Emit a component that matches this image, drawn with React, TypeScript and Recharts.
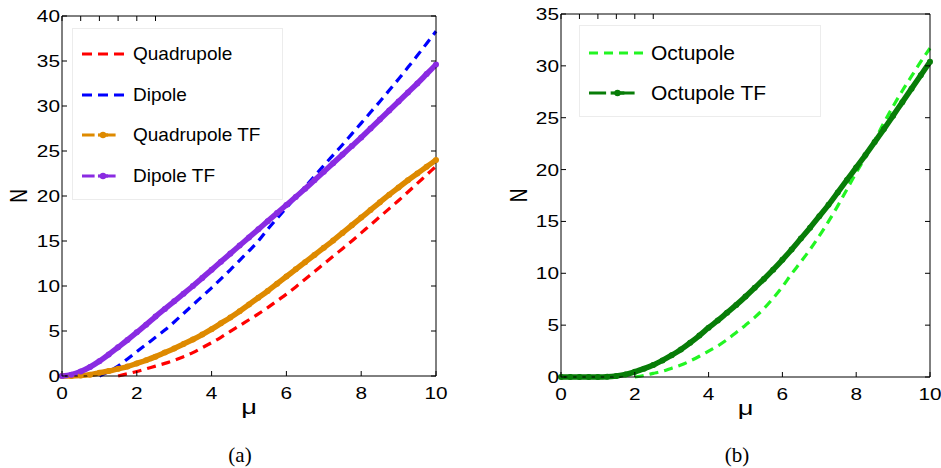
import React from "react";
import { LineChart, Line, XAxis, YAxis, Label } from "recharts";

// mu grid shared by every series
const MU = [
  0, 0.25, 0.5, 0.75, 1, 1.25, 1.5, 1.75, 2, 2.25, 2.5, 2.75, 3, 3.25, 3.5,
  3.75, 4, 4.25, 4.5, 4.75, 5, 5.25, 5.5, 5.75, 6, 6.25, 6.5, 6.75, 7, 7.25,
  7.5, 7.75, 8, 8.25, 8.5, 8.75, 9, 9.25, 9.5, 9.75, 10,
];

// panel (a)
const QUADRUPOLE = [
  null, null, null, null, null, null, 0, 0.25, 0.5, 0.8, 1.1, 1.4, 1.75, 2.15,
  2.6, 3.15, 3.7, 4.3, 4.95, 5.6, 6.25, 6.9, 7.6, 8.35, 9.1, 9.9, 10.75, 11.6,
  12.45, 13.3, 14.15, 15.0, 15.9, 16.8, 17.7, 18.6, 19.5, 20.45, 21.4, 22.35,
  23.3,
];
const DIPOLE = [
  null, null, null, null, 0, 0.5, 1.1, 1.9, 2.7, 3.5, 4.3, 5.1, 6.0, 6.95, 7.9,
  8.85, 9.8, 10.8, 11.8, 12.85, 13.9, 15.0, 16.3, 17.5, 18.7, 19.85, 21.0,
  22.2, 23.4, 24.55, 25.7, 26.9, 28.1, 29.3, 30.5, 31.75, 33.0, 34.3, 35.6,
  36.95, 38.3,
];
const QUADRUPOLE_TF = [
  0, 0, 0.05, 0.15, 0.35, 0.55, 0.8, 1.05, 1.4, 1.75, 2.15, 2.6, 3.05, 3.55,
  4.05, 4.6, 5.2, 5.85, 6.5, 7.2, 7.95, 8.7, 9.45, 10.25, 11.05, 11.85, 12.65,
  13.45, 14.25, 15.05, 15.9, 16.75, 17.6, 18.45, 19.3, 20.15, 20.95, 21.75,
  22.5, 23.25, 24.0,
];
const DIPOLE_TF = [
  0, 0.15, 0.5, 1.0, 1.65, 2.4, 3.2, 4.0, 4.85, 5.7, 6.6, 7.45, 8.3, 9.15, 10.0,
  10.9, 11.8, 12.7, 13.6, 14.5, 15.4, 16.3, 17.2, 18.1, 19.0, 19.9, 20.8,
  21.75, 22.7, 23.65, 24.6, 25.55, 26.5, 27.5, 28.5, 29.5, 30.5, 31.5, 32.5,
  33.55, 34.6,
];

// panel (b)
const OCTUPOLE = [
  null, null, null, null, null, null, null, null, 0, 0.15, 0.35, 0.55, 0.85,
  1.15, 1.55, 2.0, 2.5, 3.0, 3.6, 4.3, 5.0, 5.75, 6.6, 7.6, 8.7, 9.95, 11.1,
  12.3, 13.6, 15.0, 16.5, 18.1, 19.7, 21.2, 22.8, 24.5, 26.1, 27.6, 29.0, 30.4,
  31.7,
];
const OCTUPOLE_TF = [
  0, 0, 0, 0, 0, 0.02, 0.1, 0.25, 0.5, 0.8, 1.15, 1.6, 2.1, 2.65, 3.3, 4.0,
  4.75, 5.45, 6.2, 6.95, 7.75, 8.6, 9.45, 10.35, 11.3, 12.3, 13.35, 14.4, 15.5,
  16.6, 17.8, 19.0, 20.2, 21.4, 22.65, 23.9, 25.2, 26.5, 27.8, 29.1, 30.4,
];

const X_TICKS = [0, 2, 4, 6, 8, 10];
const Y_TICKS_A = [0, 5, 10, 15, 20, 25, 30, 35, 40];
const Y_TICKS_B = [0, 5, 10, 15, 20, 25, 30, 35];

const LEGEND_A = [
  { name: "Quadrupole", color: "#ff0000", tf: false },
  { name: "Dipole", color: "#0000ff", tf: false },
  { name: "Quadrupole TF", color: "#de8a00", tf: true },
  { name: "Dipole TF", color: "#8a2be2", tf: true },
];
const LEGEND_B = [
  { name: "Octupole", color: "#22f522", tf: false },
  { name: "Octupole TF", color: "#087d08", tf: true },
];

const dataA = MU.map((mu, i) => ({
  mu,
  quad: QUADRUPOLE[i],
  dip: DIPOLE[i],
  quadTF: QUADRUPOLE_TF[i],
  dipTF: DIPOLE_TF[i],
}));
const dataB = MU.map((mu, i) => ({
  mu,
  oct: OCTUPOLE[i],
  octTF: OCTUPOLE_TF[i],
}));

const SANS = "'Liberation Sans', Arial, sans-serif";
const SX = 1.3; // tick text in the source is stretched horizontally

function BottomTick(props: any) {
  const { x, y, payload } = props;
  return (
    <g>
      <line x1={x} x2={x} y1={y} y2={y - 5} stroke="#000" />
      <text
        transform={`translate(${x},${y + 22.5}) scale(${SX},1)`}
        textAnchor="middle"
        fontSize={16}
        fontFamily={SANS}
        fill="#000"
      >
        {payload.value}
      </text>
    </g>
  );
}

function LeftTick(props: any) {
  const { x, y, payload } = props;
  return (
    <g>
      <line x1={x} x2={x + 5} y1={y} y2={y} stroke="#000" />
      <text
        transform={`translate(${x - 2},${y + 6}) scale(${SX},1)`}
        textAnchor="end"
        fontSize={16}
        fontFamily={SANS}
        fill="#000"
      >
        {payload.value}
      </text>
    </g>
  );
}

function TopTick(props: any) {
  const { x, y } = props;
  return <line x1={x} x2={x} y1={y} y2={y + 5} stroke="#000" />;
}

function RightTick(props: any) {
  const { x, y } = props;
  return <line x1={x} x2={x - 5} y1={y} y2={y} stroke="#000" />;
}

const nLabel = (props: any) => {
  const { viewBox } = props;
  const cx = viewBox.x + 19;
  const cy = viewBox.y + viewBox.height / 2;
  return (
    <text
      transform={`translate(${cx},${cy}) rotate(-90) scale(1,1.3)`}
      textAnchor="middle"
      dy={6.5}
      fontSize={19}
      fontFamily={SANS}
      fill="#000"
    >
      N
    </text>
  );
};

const muLabel = (props: any) => {
  const { viewBox } = props;
  const cx = viewBox.x + viewBox.width / 2;
  return (
    <text
      transform={`translate(${cx},${viewBox.y + 38}) scale(${SX},1)`}
      textAnchor="middle"
      fontSize={21}
      fontFamily={SANS}
      fill="#000"
    >
      μ
    </text>
  );
};

function LegendIcon({ color, tf, w }: { color: string; tf: boolean; w: number }) {
  return (
    <svg width={w} height={10} style={{ display: "block" }}>
      <line
        x1={0}
        x2={w}
        y1={5}
        y2={5}
        stroke={color}
        strokeWidth={3.2}
        strokeDasharray={tf ? `${w * 0.3} ${w * 0.2}` : w > 50 ? "9 6" : "10 6"}
      />
      {tf && <circle cx={w / 2} cy={5} r={3.2} fill={color} />}
      {tf && (
        <line x1={w * 0.38} x2={w * 0.62} y1={5} y2={5} stroke={color} strokeWidth={3.2} />
      )}
    </svg>
  );
}

function LegendBox({
  items,
  left,
  top,
  width,
  height,
  rowTop,
  rowGap,
  iconW,
  fontSize,
  gap,
}: any) {
  return (
    <div
      style={{
        position: "absolute",
        left,
        top,
        width,
        height,
        border: "1px solid #ececec",
        background: "#fff",
        boxSizing: "border-box",
      }}
    >
      {items.map((it: any, i: number) => (
        <div
          key={it.name}
          style={{
            position: "absolute",
            left: 9,
            top: rowTop + i * rowGap - 13,
            height: 26,
            display: "flex",
            alignItems: "center",
            whiteSpace: "nowrap",
          }}
        >
          <LegendIcon color={it.color} tf={it.tf} w={iconW} />
          <span
            style={{
              marginLeft: gap,
              fontFamily: SANS,
              fontSize,
              color: "#000",
              lineHeight: "26px",
            }}
          >
            {it.name}
          </span>
        </div>
      ))}
    </div>
  );
}

function Caption({ text, left }: { text: string; left: number }) {
  return (
    <div
      style={{
        position: "absolute",
        left,
        width: 50,
        top: 443,
        textAlign: "center",
        fontFamily: "'Liberation Serif', 'DejaVu Serif', serif",
        fontSize: 21,
        lineHeight: "24px",
      }}
    >
      {text}
    </div>
  );
}

export default function App() {
  const tfDot = (c: string) => ({ r: 3, fill: c, stroke: c, strokeWidth: 0 });
  return (
    <div
      style={{
        position: "absolute",
        left: 0,
        top: 0,
        width: 941,
        height: 468,
        background: "#fff",
        overflow: "hidden",
      }}
    >
      {/* panel (a) */}
      <div style={{ position: "absolute", left: 0, top: 0 }}>
        <LineChart
          width={470}
          height={420}
          data={dataA}
          margin={{ top: 15, right: 33, bottom: 0, left: 0 }}
        >
          <XAxis
            type="number"
            dataKey="mu"
            domain={[0, 10]}
            ticks={X_TICKS}
            interval={0}
            height={44}
            tickSize={0}
            tickMargin={0}
            tickLine={false}
            axisLine={{ stroke: "#000" }}
            tick={<BottomTick />}
          >
            <Label content={muLabel} />
          </XAxis>
          <XAxis
            xAxisId="top"
            orientation="top"
            type="number"
            domain={[0, 10]}
            allowDataOverflow
            ticks={X_TICKS}
            interval={0}
            height={1}
            tickSize={0}
            tickMargin={0}
            tickLine={false}
            axisLine={{ stroke: "#000" }}
            tick={<TopTick />}
          />
          <YAxis
            type="number"
            domain={[0, 40]}
            ticks={Y_TICKS_A}
            interval={0}
            width={62}
            tickSize={0}
            tickMargin={0}
            tickLine={false}
            axisLine={{ stroke: "#000" }}
            tick={<LeftTick />}
          >
            <Label content={nLabel} />
          </YAxis>
          <YAxis
            yAxisId="right"
            orientation="right"
            type="number"
            domain={[0, 40]}
            allowDataOverflow
            ticks={Y_TICKS_A}
            interval={0}
            width={1}
            tickSize={0}
            tickMargin={0}
            tickLine={false}
            axisLine={{ stroke: "#000" }}
            tick={<RightTick />}
          />
          <Line
            type="monotone"
            dataKey="quad"
            stroke="#ff0000"
            strokeWidth={3.2}
            strokeDasharray="9 6"
            dot={false}
            isAnimationActive={false}
          />
          <Line
            type="monotone"
            dataKey="dip"
            stroke="#0000ff"
            strokeWidth={3.2}
            strokeDasharray="9 6"
            dot={false}
            isAnimationActive={false}
          />
          <Line
            type="monotone"
            dataKey="quadTF"
            stroke="#de8a00"
            strokeWidth={5.5}
            dot={tfDot("#de8a00")}
            isAnimationActive={false}
          />
          <Line
            type="monotone"
            dataKey="dipTF"
            stroke="#8a2be2"
            strokeWidth={5.5}
            dot={tfDot("#8a2be2")}
            isAnimationActive={false}
          />
        </LineChart>
      </div>
      <LegendBox
        items={LEGEND_A}
        left={72}
        top={28}
        width={211}
        height={172}
        rowTop={25}
        rowGap={40.7}
        iconW={42}
        fontSize={19}
        gap={9}
      />

      {/* panel (b) */}
      <div style={{ position: "absolute", left: 500, top: 0 }}>
        <LineChart
          width={460}
          height={421}
          data={dataB}
          margin={{ top: 13, right: 29, bottom: 0, left: 0 }}
        >
          <XAxis
            type="number"
            dataKey="mu"
            domain={[0, 10]}
            ticks={X_TICKS}
            interval={0}
            height={44}
            tickSize={0}
            tickMargin={0}
            tickLine={false}
            axisLine={{ stroke: "#000" }}
            tick={<BottomTick />}
          >
            <Label content={muLabel} />
          </XAxis>
          <XAxis
            xAxisId="top"
            orientation="top"
            type="number"
            domain={[0, 10]}
            allowDataOverflow
            ticks={X_TICKS}
            interval={0}
            height={1}
            tickSize={0}
            tickMargin={0}
            tickLine={false}
            axisLine={{ stroke: "#000" }}
            tick={<TopTick />}
          />
          <YAxis
            type="number"
            domain={[0, 35]}
            ticks={Y_TICKS_B}
            interval={0}
            width={61}
            tickSize={0}
            tickMargin={0}
            tickLine={false}
            axisLine={{ stroke: "#000" }}
            tick={<LeftTick />}
          >
            <Label content={nLabel} />
          </YAxis>
          <YAxis
            yAxisId="right"
            orientation="right"
            type="number"
            domain={[0, 35]}
            allowDataOverflow
            ticks={Y_TICKS_B}
            interval={0}
            width={1}
            tickSize={0}
            tickMargin={0}
            tickLine={false}
            axisLine={{ stroke: "#000" }}
            tick={<RightTick />}
          />
          <Line
            type="monotone"
            dataKey="oct"
            stroke="#22f522"
            strokeWidth={3.2}
            strokeDasharray="9 6"
            dot={false}
            isAnimationActive={false}
          />
          <Line
            type="monotone"
            dataKey="octTF"
            stroke="#087d08"
            strokeWidth={5.5}
            dot={tfDot("#087d08")}
            isAnimationActive={false}
          />
        </LineChart>
      </div>
      <LegendBox
        items={LEGEND_B}
        left={579}
        top={25}
        width={242}
        height={92}
        rowTop={27}
        rowGap={40}
        iconW={57}
        fontSize={21}
        gap={5}
      />

      <Caption text="(a)" left={215} />
      <Caption text="(b)" left={712} />
    </div>
  );
}
